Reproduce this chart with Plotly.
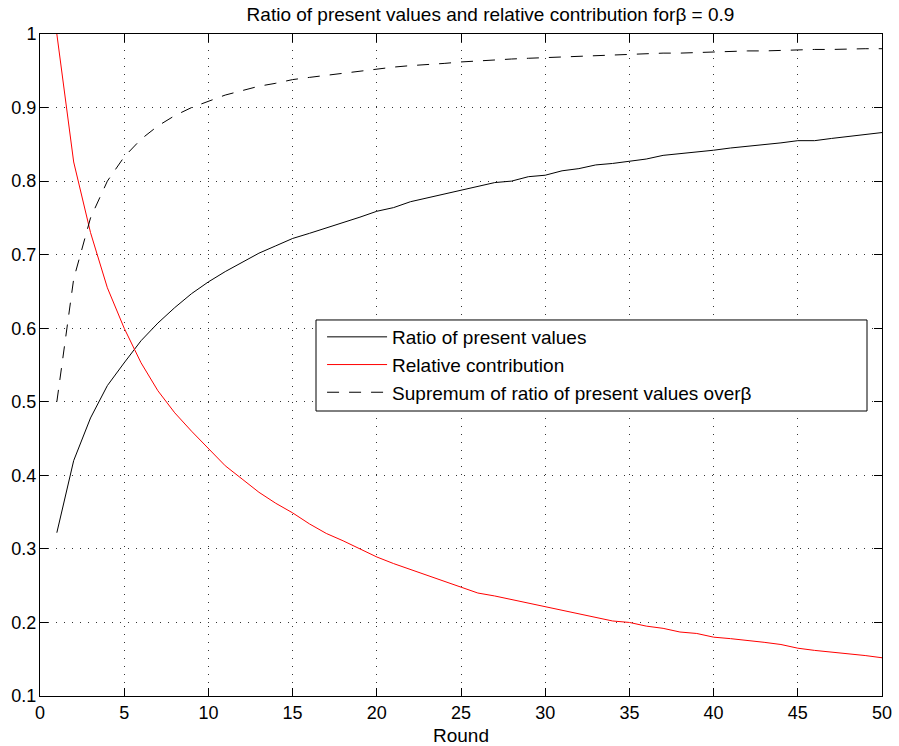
import plotly.graph_objects as go

rounds = list(range(1, 51))

ratio_pv = [0.322, 0.420, 0.478, 0.522, 0.553, 0.583, 0.607, 0.628, 0.647, 0.663,
            0.677, 0.690, 0.702, 0.712, 0.722, 0.729, 0.736, 0.744, 0.751, 0.759,
            0.764, 0.772, 0.777, 0.782, 0.787, 0.793, 0.798, 0.800, 0.806, 0.808,
            0.814, 0.817, 0.822, 0.824, 0.827, 0.830, 0.835, 0.837, 0.839, 0.842,
            0.845, 0.847, 0.850, 0.852, 0.855, 0.855, 0.858, 0.861, 0.863, 0.866]

rel_contrib = [1.000, 0.826, 0.730, 0.655, 0.600, 0.553, 0.515, 0.485, 0.460, 0.436,
               0.413, 0.395, 0.377, 0.362, 0.349, 0.334, 0.321, 0.311, 0.300, 0.289,
               0.280, 0.272, 0.264, 0.256, 0.248, 0.240, 0.236, 0.231, 0.226, 0.222,
               0.217, 0.212, 0.207, 0.202, 0.200, 0.195, 0.192, 0.187, 0.185, 0.180,
               0.178, 0.176, 0.173, 0.170, 0.165, 0.162, 0.160, 0.157, 0.155, 0.152]

supremum = [0.500, 0.667, 0.750, 0.800, 0.833, 0.857, 0.875, 0.889, 0.900, 0.909,
            0.917, 0.923, 0.929, 0.933, 0.938, 0.941, 0.944, 0.947, 0.950, 0.952,
            0.955, 0.957, 0.958, 0.960, 0.962, 0.963, 0.964, 0.966, 0.967, 0.968,
            0.969, 0.970, 0.971, 0.971, 0.972, 0.973, 0.974, 0.974, 0.975, 0.976,
            0.976, 0.977, 0.977, 0.978, 0.978, 0.979, 0.979, 0.980, 0.980, 0.980]

x_ticks = [0, 5, 10, 15, 20, 25, 30, 35, 40, 45, 50]
y_ticks = [0.1, 0.2, 0.3, 0.4, 0.5, 0.6, 0.7, 0.8, 0.9, 1.0]
y_ticktext = ["0.1", "0.2", "0.3", "0.4", "0.5", "0.6", "0.7", "0.8", "0.9", "1"]

font = "Liberation Sans, Arial, Helvetica, sans-serif"

fig = go.Figure()
fig.add_trace(go.Scatter(x=rounds, y=ratio_pv, mode="lines", name="Ratio of present values",
                         legendgroup="a", line=dict(color="black", width=1)))
fig.add_trace(go.Scatter(x=rounds, y=rel_contrib, mode="lines", name="Relative contribution",
                         legendgroup="b", line=dict(color="red", width=1)))
fig.add_trace(go.Scatter(x=rounds, y=supremum, mode="lines",
                         name="Supremum of ratio of present values over\u03b2",
                         legendgroup="c", line=dict(color="black", width=1, dash="12px,10px")))

axis_common = dict(
    showline=True, linecolor="black", linewidth=1, mirror="allticks",
    ticks="inside", ticklen=8, tickcolor="black", tickwidth=1,
    showgrid=True, gridcolor="#333333", gridwidth=1, griddash="1px,7px",
    zeroline=False, tickfont=dict(size=18, color="black", family=font),
    automargin=False,
)

fig.update_xaxes(range=[0, 50], tickvals=x_ticks,
                 title=dict(text="Round", font=dict(size=19, color="black", family=font), standoff=8),
                 **axis_common)
fig.update_yaxes(range=[0.1, 1.0], tickvals=y_ticks, ticktext=y_ticktext,
                 ticklabelstandoff=-1, **axis_common)

# legend box (white, black border) drawn as a shape behind the legend entries
fig.add_shape(type="rect", xref="paper", yref="paper",
              x0=0.3278, x1=0.9822, y0=0.4305, y1=0.568,
              line=dict(color="black", width=1), fillcolor="white", layer="above")

fig.update_layout(
    width=899, height=746,
    margin=dict(l=40, r=17, t=34, b=50),
    paper_bgcolor="white", plot_bgcolor="white",
    font=dict(family=font, color="black", size=18),
    title=dict(text="Ratio of present values and relative contribution for\u03b2 = 0.9",
               x=0.5456, xanchor="center", y=0.9807, yanchor="middle",
               font=dict(size=19, color="black", family=font)),
    showlegend=True,
    legend=dict(x=0.335, y=0.571, xanchor="left", yanchor="top",
                borderwidth=0, bgcolor="rgba(0,0,0,0)",
                font=dict(size=19, color="black", family=font),
                itemwidth=60, tracegroupgap=0),
)

fig.write_html("out.html", config={"displayModeBar": False},
               post_script="document.body.style.margin='0';")
